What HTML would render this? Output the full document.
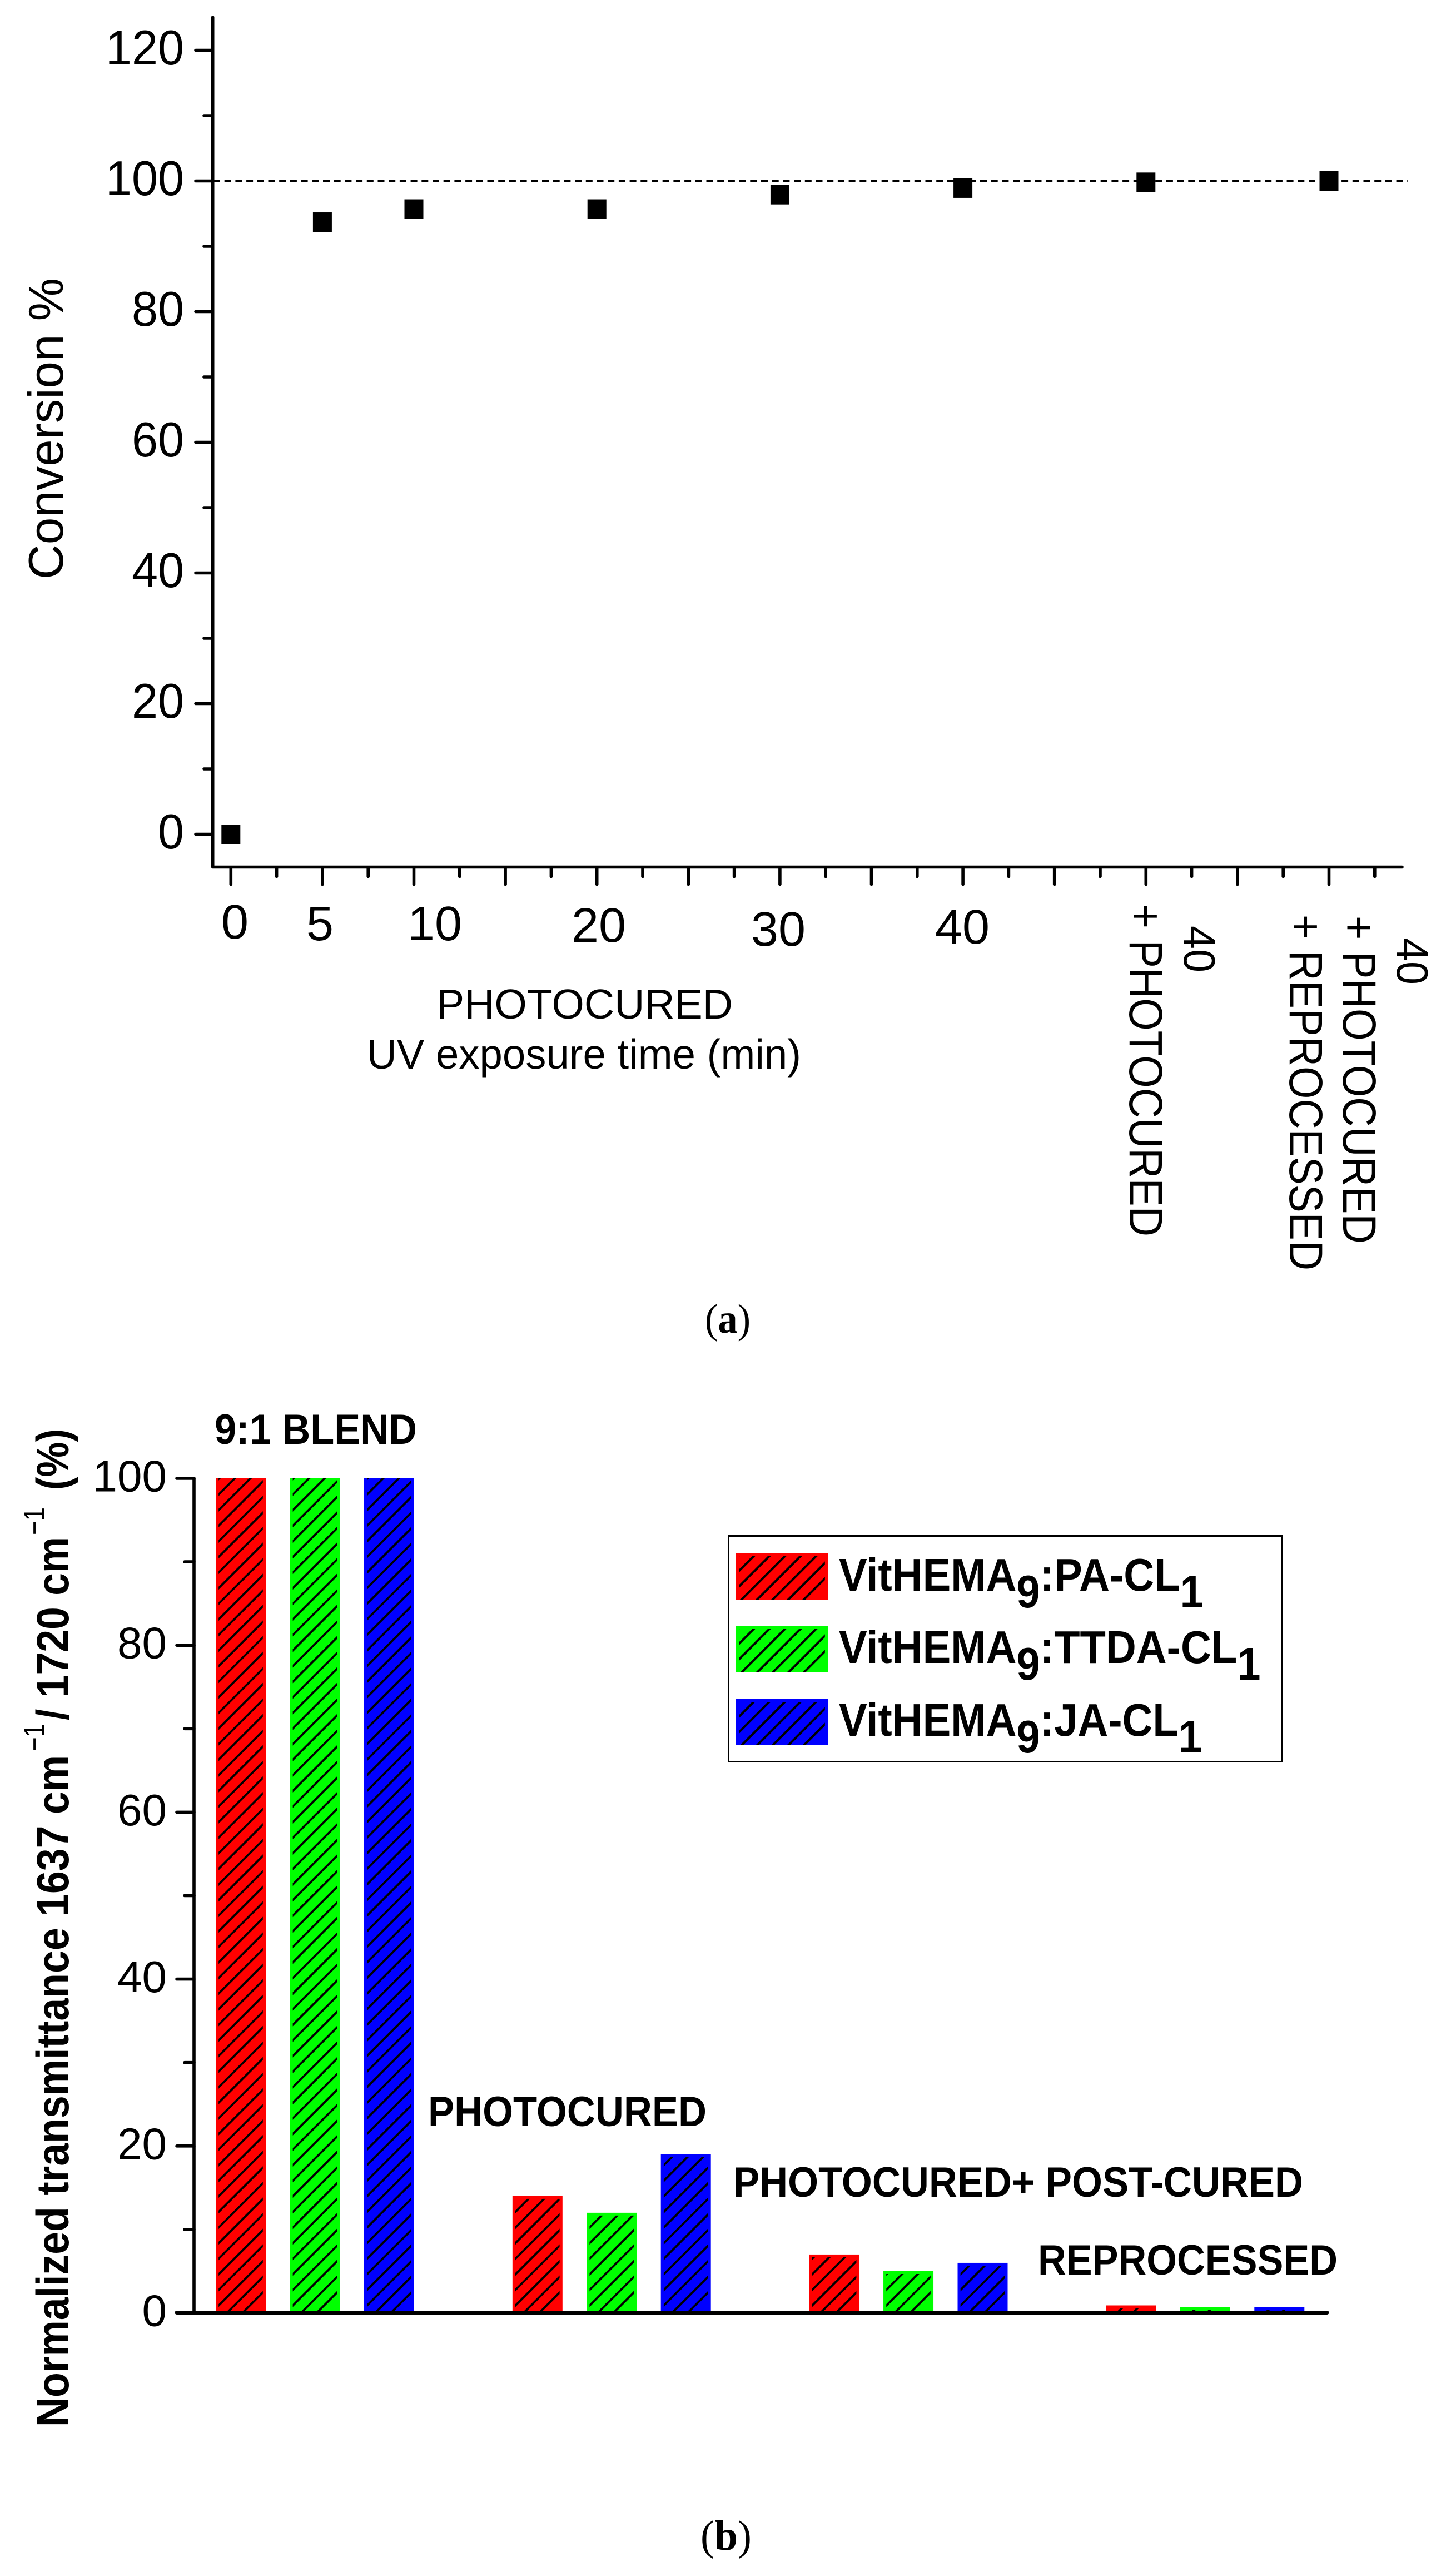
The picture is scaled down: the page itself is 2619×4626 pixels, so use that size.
<!DOCTYPE html>
<html lang="en">
<head>
<meta charset="utf-8">
<title>Conversion and normalized transmittance charts</title>
<style>
html,body{margin:0;padding:0;background:#fff;}
svg{display:block;}
text{font-family:"Liberation Sans",Arial,sans-serif;fill:#000;}
.bold{font-weight:700;}
.serif{font-family:"Liberation Serif","Times New Roman",serif;}
</style>
</head>
<body>
<svg id="figure" xmlns="http://www.w3.org/2000/svg" width="2619" height="4626" viewBox="0 0 2619 4626">
  <rect x="0" y="0" width="2619" height="4626" fill="#fff"/>

  <g id="panelA">
    <g id="axesA"></g>
    <g id="marksA"></g>

    <text transform="translate(113,1042) rotate(-90)" font-size="88" textLength="542" lengthAdjust="spacingAndGlyphs">Conversion %</text>

    <text x="398" y="1688" font-size="87" textLength="49" lengthAdjust="spacingAndGlyphs">0</text>
    <text x="551" y="1691" font-size="87" textLength="49" lengthAdjust="spacingAndGlyphs">5</text>
    <text x="733" y="1691" font-size="87" textLength="98" lengthAdjust="spacingAndGlyphs">10</text>
    <text x="1028" y="1694" font-size="87" textLength="98" lengthAdjust="spacingAndGlyphs">20</text>
    <text x="1351" y="1701" font-size="87" textLength="98" lengthAdjust="spacingAndGlyphs">30</text>
    <text x="1682" y="1697" font-size="87" textLength="98" lengthAdjust="spacingAndGlyphs">40</text>

    <text transform="translate(2032,1626) rotate(90)" font-size="84" textLength="598" lengthAdjust="spacingAndGlyphs">+ PHOTOCURED</text>
    <text transform="translate(2130,1665) rotate(90)" font-size="80" textLength="84" lengthAdjust="spacingAndGlyphs">40</text>
    <text transform="translate(2320,1645) rotate(90)" font-size="84" textLength="640" lengthAdjust="spacingAndGlyphs">+ REPROCESSED</text>
    <text transform="translate(2416,1647) rotate(90)" font-size="84" textLength="590" lengthAdjust="spacingAndGlyphs">+ PHOTOCURED</text>
    <text transform="translate(2513,1687) rotate(90)" font-size="80" textLength="84" lengthAdjust="spacingAndGlyphs">40</text>

    <text x="785" y="1832" font-size="75" textLength="533" lengthAdjust="spacingAndGlyphs">PHOTOCURED</text>
    <text x="660" y="1922" font-size="75" textLength="781" lengthAdjust="spacingAndGlyphs">UV exposure time (min)</text>

    <text class="serif" x="1268" y="2397" font-size="74" textLength="82" lengthAdjust="spacingAndGlyphs">(<tspan class="bold">a</tspan>)</text>
  </g>

  <g id="panelB">
    <g id="marksB"></g>
    <g id="axesB"></g>

    <g>
      <text class="bold" transform="translate(123,4365) rotate(-90)" font-size="82" textLength="1208" lengthAdjust="spacingAndGlyphs">Normalized transmittance 1637 cm</text>
      <text transform="translate(80,3150) rotate(-90)" font-size="54" textLength="50" lengthAdjust="spacingAndGlyphs">−1</text>
      <text class="bold" transform="translate(123,3094) rotate(-90)" font-size="82" textLength="330" lengthAdjust="spacingAndGlyphs">/ 1720 cm</text>
      <text transform="translate(80,2761) rotate(-90)" font-size="54" textLength="50" lengthAdjust="spacingAndGlyphs">−1</text>
      <text class="bold" transform="translate(123,2680) rotate(-90)" font-size="82" textLength="110" lengthAdjust="spacingAndGlyphs">(%)</text>
    </g>

    <text class="bold" x="386" y="2597" font-size="76" textLength="364" lengthAdjust="spacingAndGlyphs">9:1 BLEND</text>
    <text class="bold" x="770" y="3824" font-size="76" textLength="501" lengthAdjust="spacingAndGlyphs">PHOTOCURED</text>
    <text class="bold" x="1319" y="3951" font-size="76" textLength="1025" lengthAdjust="spacingAndGlyphs">PHOTOCURED+ POST-CURED</text>
    <text class="bold" x="1867" y="4091" font-size="76" textLength="539" lengthAdjust="spacingAndGlyphs">REPROCESSED</text>

    <g>
      <rect x="1310.5" y="2762.5" width="996" height="406" fill="#fff" stroke="#000" stroke-width="3"/>
      <g id="legendSwatches"></g>
      <text class="bold" transform="translate(1509,2861) scale(1,1.09)" font-size="76">VitHEMA<tspan dy="27.5">9</tspan><tspan dy="-27.5">:PA-CL</tspan><tspan dy="27.5">1</tspan></text>
      <text class="bold" transform="translate(1509,2991) scale(1,1.09)" font-size="76">VitHEMA<tspan dy="27.5">9</tspan><tspan dy="-27.5">:TTDA-CL</tspan><tspan dy="27.5">1</tspan></text>
      <text class="bold" transform="translate(1509,3122) scale(1,1.09)" font-size="76">VitHEMA<tspan dy="27.5">9</tspan><tspan dy="-27.5">:JA-CL</tspan><tspan dy="27.5">1</tspan></text>
    </g>

    <text class="serif" x="1260" y="4586" font-size="76" textLength="92" lengthAdjust="spacingAndGlyphs">(<tspan class="bold">b</tspan>)</text>
  </g>
</svg>

<script>
/* Panel (a) data */
const conversionSlots = [0, 1, 2, 4, 6, 8, 10, 12];
const conversionValues = [0, 93.7, 95.7, 95.7, 97.9, 98.9, 99.8, 100];
const conversionYTicks = [0, 20, 40, 60, 80, 100, 120];
const conversionYMinorTicks = [10, 30, 50, 70, 90, 110];
const conversionReference = [100];

/* Panel (b) data */
const groupNames = ['blend', 'photocured', 'post-cured', 'reprocessed'];
const seriesNames = ['pa', 'ttda', 'ja'];
const seriesPa = [100, 14, 7, 0.9];
const seriesTtda = [100, 12, 5, 0.7];
const seriesJa = [100, 19, 6, 0.7];
const seriesColors = ['#ff0000', '#00ff00', '#0000ff'];
const transmittanceYTicks = [0, 20, 40, 60, 80, 100];
const transmittanceYMinorTicks = [10, 30, 50, 70, 90];

const SVGNS = 'http://www.w3.org/2000/svg';
const figure = document.getElementById('figure');
const axesA = document.getElementById('axesA');
const marksA = document.getElementById('marksA');
const axesB = document.getElementById('axesB');
const marksB = document.getElementById('marksB');
const legendSwatches = document.getElementById('legendSwatches');

function xA(slot) { return 415.3 + slot * 164.6; }
function yA(v) { return 1500.5 - v * 11.75; }
function xB(slot) { return 388 + slot * 133.45; }
function yB(v) { return 4160 - v * 15.01; }

function svgEl(tag) { return document.createElementNS(SVGNS, tag); }

function setLine(l, x1, y1, x2, y2, w, parent) {
  l.setAttribute('x1', x1);
  l.setAttribute('y1', y1);
  l.setAttribute('x2', x2);
  l.setAttribute('y2', y2);
  l.setAttribute('stroke', '#000');
  l.setAttribute('stroke-width', w);
  l.setAttribute('stroke-linecap', 'round');
  parent.appendChild(l);
}

/* ---- Panel (a) axes ---- */
const axisAY = svgEl('line');


setLine(axisAY, 382.7, 31, 382.7, 1559, 5.6, axesA);

const axisAX = svgEl('line');


setLine(axisAX, 382.7, 1559.5, 2522, 1559.5, 5.6, axesA);

conversionYTicks.forEach(function (v) {
  const t = svgEl('line');
  
  
  setLine(t, 352, yA(v), 382, yA(v), 5.6, axesA);
  const s = svgEl('text');
  
  
  const label = String(v);
  s.setAttribute('x', 331);
  s.setAttribute('y', yA(v) + 25.5);
  s.setAttribute('font-size', 88);
  s.setAttribute('text-anchor', 'end');
  s.setAttribute('textLength', label.length * 47);
  s.setAttribute('lengthAdjust', 'spacingAndGlyphs');
  s.textContent = label;
  axesA.appendChild(s);
});

conversionYMinorTicks.forEach(function (v) {
  const t = svgEl('line');
  
  
  setLine(t, 367, yA(v), 382, yA(v), 5.6, axesA);
});

for (let slot = 0; slot <= 12; slot++) {
  const t = svgEl('line');
  
  
  setLine(t, xA(slot), 1560, xA(slot), 1590.5, 5.6, axesA);
  const m = svgEl('line');
  
  
  setLine(m, xA(slot + 0.5), 1560, xA(slot + 0.5), 1576.5, 5.6, axesA);
}

conversionReference.forEach(function (v) {
  const d = svgEl('line');
  
  
  d.setAttribute('x1', 384);
  d.setAttribute('y1', yA(v));
  d.setAttribute('x2', 2532);
  d.setAttribute('y2', yA(v));
  d.setAttribute('stroke', '#000');
  d.setAttribute('stroke-width', 3.2);
  d.setAttribute('stroke-dasharray', '12 7.7');
  marksA.appendChild(d);
});

conversionSlots.forEach(function (slot, i) {
  const p = svgEl('rect');
  
  
  p.setAttribute('x', xA(slot) - 17);
  p.setAttribute('y', yA(conversionValues[i]) - 17.5);
  p.setAttribute('width', 34);
  p.setAttribute('height', 35);
  p.setAttribute('fill', '#000');
  marksA.appendChild(p);
});

/* ---- Hatch helper ---- */
let clipCounter = 0;
function drawHatched(parent, left, top, right, bottom, color, topInset, phase, strokeW, name) {
  const r = svgEl('rect');
  
  
  r.setAttribute('x', left);
  r.setAttribute('y', top);
  r.setAttribute('width', right - left);
  r.setAttribute('height', bottom - top);
  r.setAttribute('fill', color);
  parent.appendChild(r);

  const id = 'hatch-clip-' + (clipCounter++);
  const clip = svgEl('clipPath');
  clip.setAttribute('id', id);
  const cr = svgEl('rect');
  const h = Math.max(0, bottom - top - topInset);
  cr.setAttribute('x', left + 5.2);
  cr.setAttribute('y', top + topInset);
  cr.setAttribute('width', right - left - 10.4);
  cr.setAttribute('height', h);
  clip.appendChild(cr);
  figure.appendChild(clip);

  const period = 28.05;
  let d = '';
  let c = left + bottom + phase;
  while (c + 2 * period < left + bottom + (right - left)) { c += period; }
  for (; c > left + top - period; c -= period) {
    d += 'M' + (left - 5) + ' ' + (c - left + 5) + 'L' + (right + 5) + ' ' + (c - right - 5);
  }
  const hatch = svgEl('path');
  
  
  hatch.setAttribute('d', d);
  hatch.setAttribute('stroke', '#000');
  hatch.setAttribute('stroke-width', strokeW);
  hatch.setAttribute('fill', 'none');
  hatch.setAttribute('clip-path', 'url(#' + id + ')');
  parent.appendChild(hatch);
}

/* ---- Panel (b) bars ---- */
const allSeries = [seriesPa, seriesTtda, seriesJa];
const barMax = 100;
groupNames.forEach(function (group, g) {
  allSeries.forEach(function (values, s) {
    const slot = g * 4 + s;
    const v = values[g];
    drawHatched(
      marksB,
      xB(slot),
      yB(v),
      xB(slot) + 90,
      yB(0),
      seriesColors[s],
      v >= barMax ? 0 : 5,
      -8,
      3.8,
      'bar-' + group + '-' + seriesNames[s]
    );
  });
});

/* ---- Panel (b) axes ---- */
const axisBY = svgEl('line');


setLine(axisBY, 349, yB(100), 349, yB(0), 5.6, axesB);

const axisBX = svgEl('line');


setLine(axisBX, 318, yB(0) - 0.5, 2387, yB(0) - 0.5, 7, axesB);

transmittanceYTicks.forEach(function (v) {
  if (v > 0) {
    const t = svgEl('line');
    
    
    setLine(t, 318, yB(v), 349, yB(v), 5.6, axesB);
  }
  const s = svgEl('text');
  
  
  s.setAttribute('x', 300);
  s.setAttribute('y', yB(v) + 23.5);
  s.setAttribute('font-size', 80);
  s.setAttribute('text-anchor', 'end');
  s.textContent = String(v);
  axesB.appendChild(s);
});

transmittanceYMinorTicks.forEach(function (v) {
  const t = svgEl('line');
  
  
  setLine(t, 332, yB(v), 349, yB(v), 5.6, axesB);
});

/* ---- Legend swatches ---- */
seriesNames.forEach(function (name, i) {
  const top = 2794 + i * 131;
  drawHatched(legendSwatches, 1324, top, 1489, top + 83, seriesColors[i], 5, -18.3, 4, 'legend-swatch-' + name);
});
</script>
</body>
</html>
